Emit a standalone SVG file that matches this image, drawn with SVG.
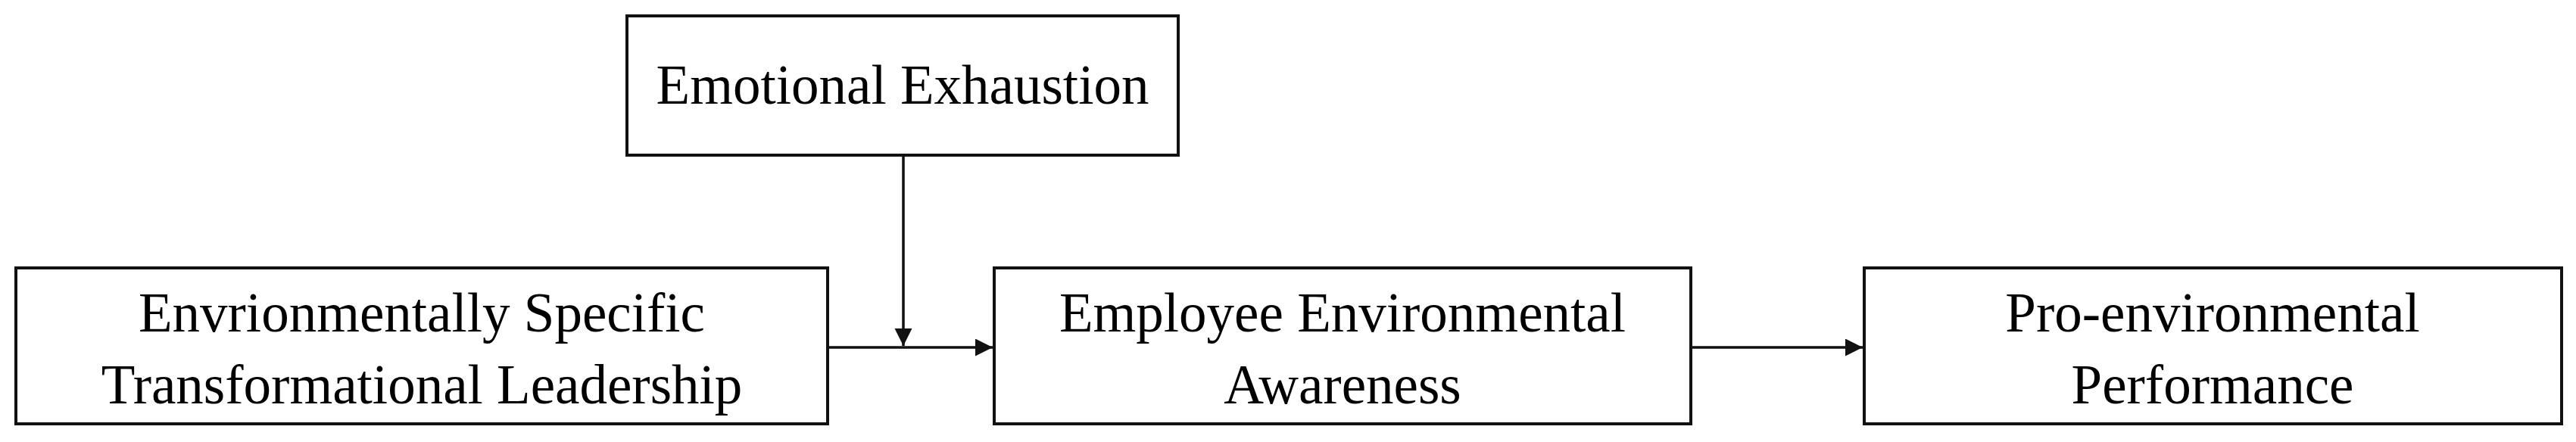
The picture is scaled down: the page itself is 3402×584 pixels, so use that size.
<svg xmlns="http://www.w3.org/2000/svg" width="3402" height="584" viewBox="0 0 3402 584">
<style>
.box{fill:#fff;stroke:#111;stroke-width:4}
.lbl{font-family:"Liberation Serif","Times New Roman",serif;font-size:73px;fill:#000;text-anchor:middle}
.conn{stroke:#111;stroke-width:3.5;fill:none}
</style>
<defs>
<marker id="ah" markerUnits="userSpaceOnUse" markerWidth="24" markerHeight="24" refX="23" refY="11.5" orient="auto">
<path d="M0,0 L23,11.5 L0,23 Z" fill="#111"/>
</marker>
</defs>
<rect width="3402" height="584" fill="#fff"/>
<g id="node-ee">
<rect class="box" x="828" y="21" width="728" height="184"/>
<text class="lbl" x="1192" y="137">Emotional Exhaustion</text>
</g>
<g id="node-estl">
<rect class="box" x="21" y="354" width="1072" height="206"/>
<text class="lbl" x="557" y="438">Envrionmentally Specific</text>
<text class="lbl" x="557" y="533">Transformational Leadership</text>
</g>
<g id="node-eea">
<rect class="box" x="1313" y="354" width="920" height="206"/>
<text class="lbl" x="1773" y="438">Employee Environmental</text>
<text class="lbl" x="1773" y="533">Awareness</text>
</g>
<g id="node-pep">
<rect class="box" x="2462" y="354" width="921" height="206"/>
<text class="lbl" x="2922" y="438">Pro-environmental</text>
<text class="lbl" x="2922" y="533">Performance</text>
</g>
<g id="connectors">
<line class="conn" x1="1093" y1="459" x2="1311" y2="459" marker-end="url(#ah)"/>
<line class="conn" x1="1193" y1="205" x2="1193" y2="457" marker-end="url(#ah)"/>
<line class="conn" x1="2233" y1="459" x2="2460" y2="459" marker-end="url(#ah)"/>
</g>
</svg>
